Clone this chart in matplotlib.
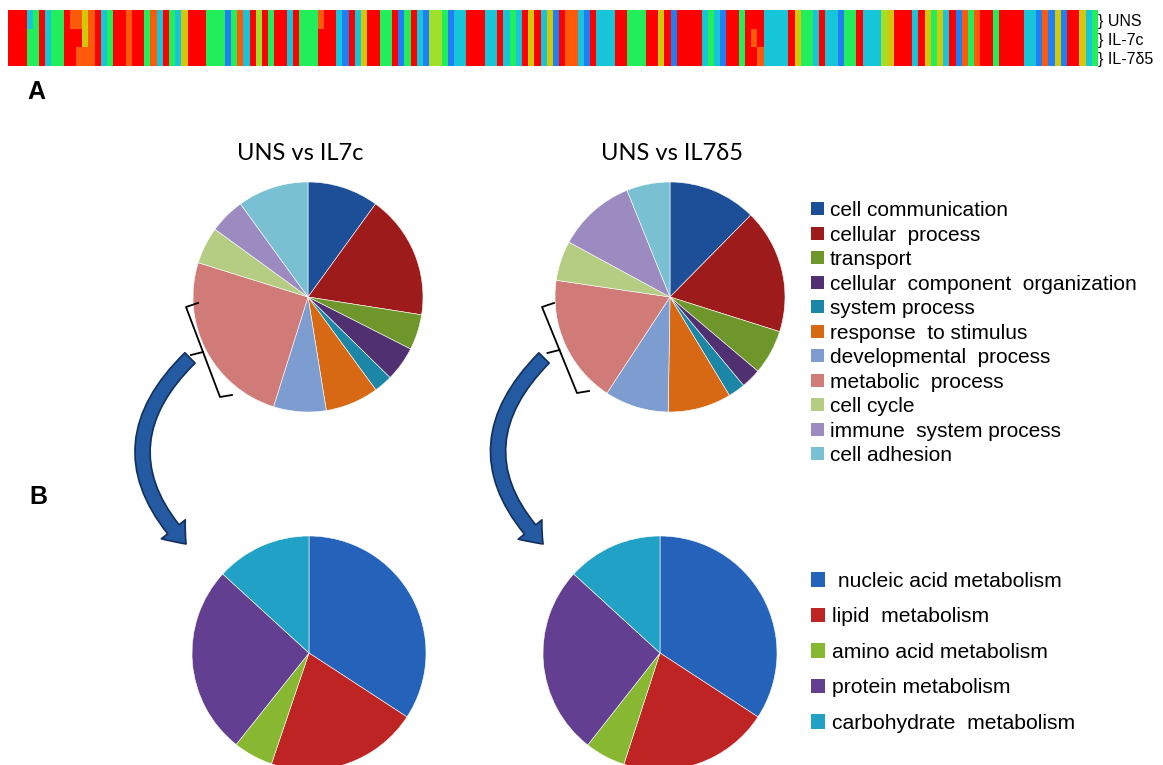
import numpy as np
import matplotlib
matplotlib.use('Agg')
import matplotlib.pyplot as plt
from matplotlib.patches import Patch, FancyArrowPatch
from matplotlib.font_manager import FontProperties

# ---------------------------------------------------
# data

# heatmap columns, one code per column (R red ... B blue)
heat_uns = ("RRRCGRCGGROOYORCGRRORRGOCRGCYRRRGGGBGOCRgRGR"
            "RCRGGGORRCBRCYRRGGRBGRCBggGBCCRRRCCRCGCRYRC"
            "YBROOCBRCCCRRGGGRRYRBRRRRCGCBRRGRRRCCCCRYGGCR"
            "CCBGGRCCCgYRRRCRYGYCRBOGORRGRRRRCCBOBYBRRYCG")
# columns where the IL-7 rows differ from UNS
il7c_changes = {3: 'G', 10: 'R', 11: 'R', 50: 'R', 120: 'O'}
il7d5_changes = {3: 'G', 10: 'R', 12: 'O', 50: 'R', 121: 'O'}
heat_rows = ['UNS', 'IL-7c', 'IL-7δ5']

go_terms = ['cell communication', 'cellular  process', 'transport',
            'cellular  component  organization', 'system process',
            'response  to stimulus', 'developmental  process',
            'metabolic  process', 'cell cycle', 'immune  system process',
            'cell adhesion']
go_il7c = [10.0, 17.5, 5.0, 4.9, 2.6, 7.5, 7.4, 25.0, 5.2, 5.0, 10.0]
go_il7d5 = [12.4, 17.5, 6.3, 2.8, 2.4, 8.9, 9.0, 18.1, 5.6, 11.0, 6.1]
go_colors = ['#1c4f98', '#9e1b1c', '#6f962a', '#513071', '#1b86a6', '#d76915',
             '#7d9dd0', '#d07b78', '#b5cd83', '#9c8bc0', '#79c0d2']

met_terms = [' nucleic acid metabolism', 'lipid  metabolism',
             'amino acid metabolism', 'protein metabolism',
             'carbohydrate  metabolism']
met_il7c = [34.2, 21.0, 5.5, 26.1, 13.2]
met_il7d5 = [34.2, 20.8, 5.6, 26.2, 13.2]
met_colors = ['#2563bb', '#bf2424', '#88b832', '#633f91', '#22a1c7']

titles = ['UNS vs IL7c', 'UNS vs IL7δ5']

heat_colors = {'R': '#ff0000', 'O': '#ff5a0a', 'Y': '#d2c80a', 'g': '#9fe02a',
               'G': '#22ee5c', 'C': '#16c6d8', 'B': '#1e80f4'}

# ---------------------------------------------------

W, H = 1163, 765
fig = plt.figure(figsize=(W / 100, H / 100), dpi=100)

def px_axes(x0, y0, x1, y1):
    # axes from pixel box (top-left origin)
    return fig.add_axes([x0 / W, 1 - y1 / H, (x1 - x0) / W, (y1 - y0) / H])

# heatmap strip
rows = []
for changes in [{}, il7c_changes, il7d5_changes]:
    codes = list(heat_uns)
    for k, v in changes.items():
        codes[k] = v
    rows.append([matplotlib.colors.to_rgb(heat_colors[c]) for c in codes])
img = np.array(rows)
hax = px_axes(8, 10, 1098, 66)
hax.imshow(img, aspect='auto', interpolation='nearest')
hax.axis('off')

# pies
def draw_pie(cx, cy, r, values, colors):
    ax = px_axes(cx - r, cy - r, cx + r, cy + r)
    ax.pie(values, colors=colors, startangle=90, counterclock=False, radius=1,
           wedgeprops=dict(edgecolor='white', linewidth=0.4))
    ax.set_xlim(-1, 1)
    ax.set_ylim(-1, 1)
    ax.axis('off')

draw_pie(308, 297, 115, go_il7c, go_colors)
draw_pie(670, 297, 115, go_il7d5, go_colors)
draw_pie(309, 653, 117, met_il7c, met_colors)
draw_pie(660, 653, 117, met_il7d5, met_colors)

# overlay in pixel coords for text, brackets, arrows, legends
ov = fig.add_axes([0, 0, 1, 1], zorder=5)
ov.set_xlim(0, W)
ov.set_ylim(H, 0)
ov.axis('off')
ov.patch.set_alpha(0)

for i, lab in enumerate(heat_rows):
    ov.text(1098, 21 + i * 19, '} ' + lab, fontsize=11.5, family='Liberation Sans',
            va='center', ha='left')

ov.text(27, 92, 'A', fontsize=18, fontweight='bold', family='Liberation Sans', va='center')
ov.text(29, 497, 'B', fontsize=18, fontweight='bold', family='Liberation Sans', va='center')

ov.text(300, 153, titles[0], fontsize=17, family=['Lato', 'DejaVu Sans'], ha='center', va='center')
ov.text(672, 153, titles[1], fontsize=17, family=['Lato', 'DejaVu Sans'], ha='center', va='center')

# brackets on the metabolic slices
for (tx, ty), (bx, by) in [((186, 307), (220, 397)), ((542, 307), (577, 393))]:
    ov.plot([tx + 12, tx, bx, bx + 12], [ty - 4, ty, by, by - 2], color='black', lw=1.3)
    mx, my = (tx + bx) / 2, (ty + by) / 2
    ov.plot([mx, mx - 12], [my, my + 3], color='black', lw=1.3)

# curved arrows down to the lower pies
for (sx, sy), (ex, ey) in [((192, 356), (188, 546)), ((546, 356), (545, 546))]:
    arr = FancyArrowPatch((sx, sy), (ex, ey), connectionstyle='arc3,rad=0.5',
                          arrowstyle='simple,head_width=2.2,head_length=1.4,tail_width=1.05',
                          mutation_scale=10, facecolor='#235aa2', edgecolor='#142f5c',
                          lw=1.2)
    ov.add_patch(arr)

# legends
leg_font = FontProperties(family='Liberation Sans', size=15)
h1 = [Patch(facecolor=c, edgecolor='none') for c in go_colors]
leg1 = ov.legend(h1, go_terms, loc='upper left', bbox_to_anchor=(811 / W, 1 - 201 / H),
                 bbox_transform=fig.transFigure, frameon=False, borderpad=0,
                 borderaxespad=0, handlelength=0.6, handleheight=0.6,
                 handletextpad=0.3, labelspacing=0.265, prop=leg_font)
ov.add_artist(leg1)

leg_font2 = FontProperties(family='Liberation Sans', size=15.2)
h2 = [Patch(facecolor=c, edgecolor='none') for c in met_colors]
ov.legend(h2, met_terms, loc='upper left', bbox_to_anchor=(811 / W, 1 - 572 / H),
          bbox_transform=fig.transFigure, frameon=False, borderpad=0,
          borderaxespad=0, handlelength=0.68, handleheight=0.68,
          handletextpad=0.3, labelspacing=0.78, prop=leg_font2)

fig.savefig('out.png', dpi=100)
